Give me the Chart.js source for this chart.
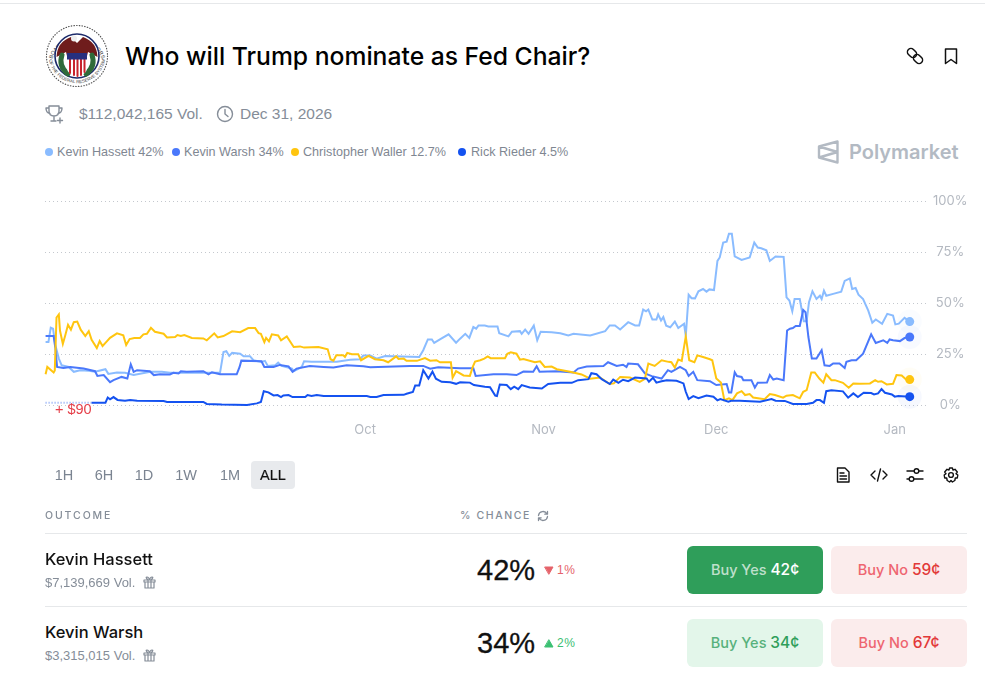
<!DOCTYPE html>
<html lang="en">
<head>
    <meta charset="UTF-8">
    <title>Who will Trump nominate as Fed Chair?</title>
    <script src="https://cdn.jsdelivr.net/npm/chart.js"></script>
    <style>
        html, body { margin: 0; padding: 0; background: #fff; overflow: hidden; }
        body { width: 985px; height: 673px; position: relative; font-family: Inter, sans-serif; color: #111; }
        .abs { position: absolute; white-space: nowrap; line-height: 1; }
        .grey { color: #858d98; }
        .lib { font-family: "Liberation Sans", sans-serif; }
        .rule { position: absolute; height: 1px; background: #e6e8ea; }
        .dot { position: absolute; width: 8px; height: 8px; border-radius: 50%; top: 148px; }
        .leg { top: 146px; font-size: 12.6px; color: #7f8792; font-family: "Liberation Sans", sans-serif; }
        .range { top: 468px; font-size: 14.5px; color: #7b8491; transform: translateX(-50%); font-family: "Liberation Sans", sans-serif; }
        .btn { position: absolute; width: 136px; height: 48px; border-radius: 6px; text-align: center; line-height: 48px; font-size: 14.5px; font-weight: 500; }
        .btn b { font-weight: 500; font-size: 15.5px; }
        .no { background: #fbecec; color: #ee6570; }
        .no b { color: #e23939; }
        .pct { font-size: 29px; font-family: "Liberation Sans", sans-serif; -webkit-text-stroke: .3px #111; }
        svg { position: absolute; fill: none; stroke-linecap: round; stroke-linejoin: round; }
        canvas { position: absolute; left: 0; top: 182px; }
    </style>
</head>
<body>
    <div class="rule" style="left:0;top:3px;width:985px"></div>

    <!-- seal -->
    <svg style="left:45px;top:24px" width="64" height="64" viewBox="0 0 64 64">
        <defs>
            <path id="sealTop" d="M6.5 38 A26 26 0 0 1 57.5 38"/>
            <path id="sealBottom" d="M4 36 A28.5 28.5 0 0 0 60 36"/>
        </defs>
        <circle cx="32" cy="32" r="30.5" stroke="#555" stroke-width="1.2" stroke-dasharray="0.5 2.2"/>
        <text font-family="Liberation Sans" font-size="5.4" fill="#333" stroke="none" text-anchor="middle"><textPath href="#sealTop" startOffset="50%">BOARD OF GOVERNORS</textPath></text>
        <text font-family="Liberation Sans" font-size="4.4" fill="#333" stroke="none" text-anchor="middle"><textPath href="#sealBottom" startOffset="50%">OF THE FEDERAL RESERVE SYSTEM</textPath></text>
        <circle cx="32" cy="32" r="22" fill="#fff" stroke="#1c2b6b" stroke-width="1.6"/>
        <path d="M11.5 33 Q12 18 26 13 L32 19 L38 13 Q52 18 52.5 33 L43 28 L42 32 L22 32 L21 28 Z" fill="#6f1c1c"/>
        <circle cx="29" cy="14.5" r="3" fill="#eee"/>
        <path d="M17 31 Q13 42 23 50 M47 31 Q51 42 41 50" stroke="#2f6b3a" stroke-width="5"/>
        <path d="M22 29 H42 V44 Q42 50 32 53 Q22 50 22 44 Z" fill="#fff"/>
        <path d="M25 35 V49 M29 35 V51 M32.5 35 V52 M36 35 V51 M39.5 35 V48" stroke="#c8232c" stroke-width="2"/>
        <rect x="22" y="29" width="20" height="6.5" fill="#27307f"/>
    </svg>

    <div class="abs" style="left:125px;top:44px;font-size:24.7px;font-weight:500;color:#000">Who will Trump nominate as Fed Chair?</div>

    <!-- link / bookmark -->
    <svg style="left:905px;top:46px" width="20" height="20" viewBox="0 0 20 20" stroke="#111" stroke-width="1.5">
        <rect x="2" y="3.5" width="10" height="7" rx="3.5" transform="rotate(45 7 7)"/>
        <rect x="8" y="9.5" width="10" height="7" rx="3.5" transform="rotate(45 13 13)"/>
    </svg>
    <svg style="left:943px;top:47px" width="16" height="18" viewBox="0 0 16 18" stroke="#111" stroke-width="1.5">
        <path d="M2.5 2 H13.5 V16.5 L8 12.5 L2.5 16.5 Z"/>
    </svg>

    <!-- trophy / clock -->
    <svg style="left:45px;top:104px" width="20" height="20" viewBox="0 0 20 20" stroke="#858d98" stroke-width="1.4">
        <path d="M4 2 H14 V7 Q14 12 9 12 Q4 12 4 7 Z M4 4 H1 Q1 9 5 9.5 M14 4 H17 Q17 9 13 9.5 M9 12 V16 M6 17 H11 M15 14 V19 M12.5 16.5 H17.5"/>
    </svg>
    <div class="abs grey lib" style="left:79px;top:106px;font-size:15.5px">$112,042,165 Vol.</div>
    <svg style="left:216px;top:105px" width="18" height="18" viewBox="0 0 18 18" stroke="#858d98" stroke-width="1.4">
        <circle cx="9" cy="9" r="7.5"/><path d="M9 4.5 V9 L12 11.5"/>
    </svg>
    <div class="abs grey lib" style="left:240px;top:106px;font-size:15.5px">Dec 31, 2026</div>

    <!-- legend -->
    <div class="dot" style="left:45px;background:#8abcff"></div>
    <div class="abs leg" style="left:57px">Kevin Hassett 42%</div>
    <div class="dot" style="left:172px;background:#4a78fb"></div>
    <div class="abs leg" style="left:184px">Kevin Warsh 34%</div>
    <div class="dot" style="left:291px;background:#ffc50f"></div>
    <div class="abs leg" style="left:303px">Christopher Waller 12.7%</div>
    <div class="dot" style="left:458px;background:#1452f0"></div>
    <div class="abs leg" style="left:471px">Rick Rieder 4.5%</div>

    <!-- polymarket mark -->
    <svg style="left:817px;top:139px" width="23" height="26" viewBox="0 0 23 26" stroke="#b3bac3" stroke-width="2.4">
        <path d="M20.5 2.5 V23.5 L2 18.5 V7.5 Z M2 7.5 L20.5 13 L2 18.5"/>
    </svg>
    <div class="abs" style="left:849px;top:142px;font-size:20px;font-weight:600;color:#b3bac3">Polymarket</div>

    <canvas id="oddsChart" width="985" height="258" style="width:985px;height:258px"></canvas>

    <div class="abs lib" style="left:55px;top:402px;font-size:14.5px;color:#e5404a">+ $90</div>

    <!-- range buttons -->
    <div class="abs range" style="left:64px">1H</div>
    <div class="abs range" style="left:104px">6H</div>
    <div class="abs range" style="left:144px">1D</div>
    <div class="abs range" style="left:186px">1W</div>
    <div class="abs range" style="left:230px">1M</div>
    <div style="position:absolute;left:251px;top:461px;width:44px;height:28px;border-radius:4px;background:#e8eaed"></div>
    <div class="abs range" style="left:273px;color:#111;-webkit-text-stroke:.2px #111">ALL</div>

    <!-- tool icons -->
    <svg style="left:835px;top:467px" width="16" height="16" viewBox="0 0 16 16" stroke="#111" stroke-width="1.4">
        <path d="M2.5 1 H10 L14 5 V15 H2.5 Z M5 6 H9 M5 9 H11.5 M5 12 H11.5"/>
    </svg>
    <svg style="left:870px;top:467px" width="18" height="16" viewBox="0 0 18 16" stroke="#111" stroke-width="1.4">
        <path d="M5 4 L1 8 L5 12 M13 4 L17 8 L13 12 M10.5 2 L7.5 14"/>
    </svg>
    <svg style="left:906px;top:467px" width="18" height="16" viewBox="0 0 18 16" stroke="#111" stroke-width="1.4">
        <path d="M1 4 H8 M13 4 H17 M1 12 H3 M8 12 H17"/><circle cx="10.5" cy="4" r="2.3"/><circle cx="5.5" cy="12" r="2.3"/>
    </svg>
    <svg style="left:943px;top:467px" width="16" height="16" viewBox="0 0 16 16" stroke="#111" stroke-width="1.4">
        <circle cx="8" cy="8" r="2.4"/>
        <path d="M6.6 1 H9.4 L10 3 L12 2.3 L14.3 5 L13 6.6 L14.8 8 L14.3 11 L12.3 11 L11.8 13.5 L9.4 15 L8 13.6 L6.6 15 L4.2 13.5 L3.7 11 L1.7 11 L1.2 8 L3 6.6 L1.7 5 L4 2.3 L6 3 Z"/>
    </svg>

    <!-- table head -->
    <div class="abs grey" style="left:45px;top:511px;font-size:10.5px;font-weight:500;letter-spacing:1.9px">OUTCOME</div>
    <div class="abs grey" style="left:460px;top:511px;font-size:10.5px;font-weight:500;letter-spacing:1.6px">% CHANCE</div>
    <svg style="left:537px;top:510px" width="12" height="12" viewBox="0 0 12 12" stroke="#858d98" stroke-width="1.3">
        <path d="M1.5 5.5 A4.5 4.5 0 0 1 10 4 M10.5 6.5 A4.5 4.5 0 0 1 2 8 M10.5 1.5 V4.2 H7.8 M1.5 10.5 V7.8 H4.2"/>
    </svg>
    <div class="rule" style="left:45px;top:533px;width:922px"></div>

    <!-- row 1 -->
    <div class="abs" style="left:45px;top:551px;font-size:16.5px;font-weight:500">Kevin Hassett</div>
    <div class="abs grey lib" style="left:45px;top:576px;font-size:13px">$7,139,669 Vol.</div>
    <svg style="left:143px;top:576px" width="13" height="13" viewBox="0 0 13 13" stroke="#858d98" stroke-width="1.2">
        <path d="M1 4 H12 V6 H1 Z M2 6 V12 H11 V6 M5 4 V12 M8 4 V12 M5 4 Q2 1 4 1 Q6 1 6.5 4 Q7 1 9 1 Q11 1 8 4"/>
    </svg>
    <div class="abs pct" style="left:477px;top:556px">42%</div>
    <svg style="left:544px;top:566px" width="10" height="9" viewBox="0 0 10 9"><path d="M1 1 H9 L5 8 Z" fill="#e5636a" stroke="#e5636a"/></svg>
    <div class="abs lib" style="left:557px;top:564px;font-size:12px;letter-spacing:.6px;color:#e5636a">1%</div>
    <div class="btn" style="left:687px;top:546px;background:#2f9e5a;color:rgba(255,255,255,.7)">Buy Yes <b style="color:#fff">42¢</b></div>
    <div class="btn no" style="left:831px;top:546px">Buy No <b>59¢</b></div>
    <div class="rule" style="left:45px;top:606px;width:922px"></div>

    <!-- row 2 -->
    <div class="abs" style="left:45px;top:624px;font-size:16.5px;font-weight:500">Kevin Warsh</div>
    <div class="abs grey lib" style="left:45px;top:649px;font-size:13px">$3,315,015 Vol.</div>
    <svg style="left:143px;top:649px" width="13" height="13" viewBox="0 0 13 13" stroke="#858d98" stroke-width="1.2">
        <path d="M1 4 H12 V6 H1 Z M2 6 V12 H11 V6 M5 4 V12 M8 4 V12 M5 4 Q2 1 4 1 Q6 1 6.5 4 Q7 1 9 1 Q11 1 8 4"/>
    </svg>
    <div class="abs pct" style="left:477px;top:629px">34%</div>
    <svg style="left:544px;top:639px" width="10" height="9" viewBox="0 0 10 9"><path d="M1 8 H9 L5 1 Z" fill="#3cc073" stroke="#3cc073"/></svg>
    <div class="abs lib" style="left:557px;top:637px;font-size:12px;letter-spacing:.6px;color:#3cc073">2%</div>
    <div class="btn" style="left:687px;top:619px;background:#e3f6ea;color:#57b17c">Buy Yes <b style="color:#2f9e5a">34¢</b></div>
    <div class="btn no" style="left:831px;top:619px">Buy No <b>67¢</b></div>

    <script>
        // x values are days counted from Oct 1
        const xTickDays = [0, 31, 61, 92];
        const xTickLabels = ['Oct', 'Nov', 'Dec', 'Jan'];
        const yTicks = [0, 25, 50, 75, 100];

        const hassettDays = [-55.5,-55,-54.6,-54.2,-53.8,-53.2,-52.7,-51.5,-50.6,-49.5,-48,-46.9,-45.1,-44.6,-43.1,-41.7,-40.2,-37.3,-35.3,-33.9,-25.2,-24.6,-24.1,-23.6,-23.1,-21.7,-21.1,-20,-19.4,-18,-17.4,-16.9,-15.6,-15.1,-14.5,-12.7,-12.4,-11,-10.6,-9.3,-4.9,-2.6,-0.9,-0.3,0.9,2,3.5,4.9,9.4,10.1,10.9,11.6,12,13,14.5,15.8,16.5,17.4,18.1,18.8,19.3,19.7,20.8,21.4,23,23.3,24.9,25.5,26.9,27.2,27.8,28.4,29.3,29.9,30.5,32.4,33.9,35.3,36.2,39.1,41.7,42.5,43.4,44.3,45.7,46.9,47.6,48.3,48.8,49.2,49.9,50.6,50.9,51.4,51.8,52.3,53,53.8,54.4,55.4,55.7,56.2,56.7,57.3,57.9,58.7,59.3,59.8,60.6,61.2,61.6,62.2,62.8,63.2,63.7,64.2,65.4,66.8,67.6,68.2,68.8,69.7,70.3,71.3,72.7,73.2,73.7,74.2,74.6,75.5,76.2,76.7,77.1,77.7,78.4,79,79.3,79.7,80.1,81.3,82.7,83.3,84.2,84.6,85.2,85.7,86.5,87.4,88.1,88.7,89.8,90.7,91.7,92.1,92.7,93.7,94.6];
        const hassettValues = [31,31,38,37.5,29.3,22.8,19.5,18.7,16.3,17.1,16.8,16.3,17.6,15.3,16,15.8,14.7,16.3,16.3,15.8,15.8,26,26.4,24.1,25.6,25.2,23.9,24,22,21.2,21.7,19.2,19.5,20.8,19.2,17.9,16.6,18.7,21.5,21.2,21.2,22.2,22.5,24.3,24.3,22.8,24.1,24,23.6,26.9,32.2,32.2,30.5,32.2,34.7,30.6,32.6,35,33,38.3,37.5,39.1,39.1,38.6,38.6,35.3,33.7,36,36.3,35,37.1,35,39,31.8,36,35.8,35.3,34.2,35,34.2,36.3,39.1,39.1,37.1,40.7,39.1,39.1,46.9,46,46.9,42,42,44.5,41.5,43.2,39,38.2,41,37.8,39.9,33.9,54.2,52.5,52.4,55.9,57,55.7,56.8,56.5,70.8,72.5,79.8,80.3,84.2,84.2,73,71.3,72.5,79.8,77.4,77,76,70.8,73,72.8,52.9,51.3,46.1,52.1,52.1,41.2,41.2,50.5,55.9,52.1,53.7,52.1,56.2,53.7,54.6,55.7,61,62.2,57,57.5,54.2,52.1,46.4,40.4,42,39.9,44.8,44,39.6,40,42.8,41];

        const warshDays = [-55.5,-54.1,-53.8,-53.5,-52.4,-51.2,-48.9,-46.9,-46.5,-45.4,-44.3,-43.7,-42.3,-41.3,-40.7,-40.2,-39.6,-37.4,-36.7,-35.6,-33.9,-33.3,-32.4,-32,-31,-28.1,-27.2,-26.6,-25.2,-22.3,-21.8,-21.5,-18,-17.5,-15.9,-14.8,-13.3,-12.6,-11.9,-9.6,-7.2,-5.5,-3.2,-0.3,0.9,7.8,10.1,11.3,12.7,16.5,18.8,19.2,22.3,24.6,26.3,27.5,29.2,29.8,30.3,33.3,36.2,37,38.5,41.4,42.2,43.7,44.8,45.4,45.7,47.4,48.6,49.8,51.5,52.6,53.2,54.7,55.7,56.2,57,57.7,59.9,61,62.8,63.2,63.6,64.2,64.6,65.4,65.7,67.1,67.7,68.2,69.8,70.3,70.9,71.5,72.7,73.3,73.8,74.3,74.8,75.5,76.1,76.5,77,77.6,78.4,79.3,79.8,80.7,81.3,82.4,83.3,83.6,84.5,85.3,86.5,87.9,88.7,90,90.7,91.1,91.7,92.9,93.7,94.6];
        const warshValues = [33.9,33.9,28,18.7,18.2,18.7,17.9,16.6,14.3,14.7,11.2,12.2,13.8,13,20,16.3,17.1,16.6,14.7,15.1,15,15.8,15.5,16.6,16.3,16.6,15.1,16.1,15.1,15.1,18.7,21.8,21.5,18.7,18.7,19.7,19,16.3,17.9,19.2,18.7,18.4,19.5,19,18.6,19.2,19.2,17.8,18.5,18.1,18.1,14.3,15.1,15.1,14.7,16.4,16.3,19,16.3,16.6,16,17.9,18.9,19.2,21,19.2,19.8,18.7,20.4,20,15.5,14.2,13,17.1,16.3,18.7,17.1,14.3,16.3,12.2,11.7,9.8,10.3,6.2,6.2,16.1,14.2,13.8,12.2,12.2,8.5,10.9,11,14.7,12.5,13,12.2,36.6,37.5,37.8,38.8,38.8,46.7,45.6,33.4,22.8,22.8,26.9,19.5,19.2,20.4,20.4,18.2,21.2,22,22,25.2,34.7,30.5,31.8,30.5,32.2,31.8,31.4,32.9,33.4];

        const wallerDays = [-55.5,-55.2,-54.1,-53.9,-53.6,-53.2,-53,-52.5,-52.1,-51.6,-51.1,-50.6,-50,-49.4,-48.6,-48,-47.5,-46.6,-46.1,-45.6,-45.1,-44.3,-43.1,-42,-41.5,-40.9,-40.1,-39.1,-38.5,-37.9,-37.2,-36.5,-35,-34.4,-33,-32.6,-32,-31.4,-30.1,-28.1,-27.5,-26.2,-25.6,-24.6,-23.1,-21.7,-20.3,-19.1,-18.5,-18.1,-17.5,-17.2,-16.7,-16.2,-15.1,-14.6,-13.6,-12.4,-11.3,-10.6,-8.1,-6.5,-6,-5.5,-5,-3.8,-3.5,-3.1,-2.3,-1.2,-0.7,0.6,1.7,3.2,4,5.4,5.8,6.7,7.2,9,10.4,11.3,12.4,13,14.9,15.2,15.8,17.1,18.2,18.7,19.1,20,20.7,21.3,21.8,24.3,24.7,25.3,26.3,26.9,27.5,29.5,30.4,31.2,32.4,33.3,35.6,37.6,39.1,40.8,42.5,43.2,44.3,46,47.7,48.6,49.2,50.3,51.5,52.7,53.2,53.8,54.4,55,55.7,56.3,57.2,57.7,58.7,59.9,60.3,61,61.8,62.4,63.2,63.8,64.6,65.4,66,66.8,67.4,69.4,70.3,71.2,72.6,73.2,74.3,75.5,76.1,76.7,77.5,78.1,78.9,79.6,80.1,81,81.6,83,84,84.8,85.9,87.7,88.6,89.1,89.7,90.6,91.7,92.3,93.2,94.1,94.6];
        const wallerValues = [15.1,18.7,16,17,43,44.5,36.6,30,34,39.4,37,40.7,41,37,33.9,36.3,32,28,31.4,29,30.5,33,35.2,34.2,29.5,32.4,32.9,32.9,34.7,35,37.9,36,35,33.2,33.4,34.4,33.9,34.4,32.9,32.7,31.8,35.2,33.2,33.9,36.2,35.8,37.8,37.8,35.3,35,30.9,33,31.3,34.7,34.2,31.8,33.7,28.5,28.8,28.2,28.5,27.4,22.5,21.8,24.4,24.4,23.6,25.6,25,25,22,24.1,22.5,22,21,23.9,22.6,22.8,21.7,21.7,23.1,21.8,22,21,21,13.4,16.6,14.5,14.3,18.7,21.3,22,22.8,23.9,23,23,25.2,25.9,25.2,22.3,22.6,21,21.5,18.7,18.9,17.6,16.3,15,12.9,13.5,10.3,10.6,13.8,13.5,11.4,12.9,20.4,19.2,22,21.2,21,18.4,22.3,21.7,33.7,22,21,24.4,23.6,22.5,22,13,11,2.4,3.3,2.4,5.7,6.8,4.9,5.4,3.7,2.8,5.4,4.9,3.6,4.6,4.9,3.3,6.5,7.3,16,16,13,11,15.1,12.2,12.2,10.9,8.5,10.6,10.4,10.6,12.2,11.4,11.7,10.1,10.4,14.7,14.5,12.2,12.5];

        const riederDays = [-55.5,-47.5,-45.1,-44.7,-44.3,-43.7,-43,-41.7,-40.8,-39.6,-35,-34.4,-28.1,-27.5,-24.9,-20.5,-18.8,-18.1,-17.6,-16.8,-15.9,-15.2,-14.6,-14.2,-13.3,-12.6,-10.4,-10,-9.3,-8.4,-7.2,0.3,0.9,2,3.2,6.7,7.2,8.3,8.7,9.4,10.1,11,11.7,12.3,13.3,14.8,15.8,16.5,18.2,18.9,20.8,21.7,22.6,22.9,23.4,24.6,25.3,25.9,26.6,27.2,28.6,30.7,31.8,33.9,35.9,37,38.8,39.3,40.2,41.1,42.5,43.1,44,44.8,45.7,46.9,48.9,49.3,50,50.6,51.5,52.4,54.1,55.3,55.7,56.2,57,57.9,59.3,60.5,61.2,61.7,63.1,63.6,65.1,68.6,70.6,71.3,72.9,74.3,76.7,77.8,78.4,79,79.7,80.1,81,83,83.9,84.8,85.6,86.6,87.9,88.4,89.1,89.7,90.3,91.5,92,92.6,94.6];
        const riederValues = [1.1,1.1,1.1,3.7,2.8,3.9,2.5,2.1,2.5,2.1,2,1.5,1.5,0.5,0.2,0,0.8,1.5,6.8,6.2,4.7,4.9,3.9,4.7,4.9,3.9,3.9,4.9,4.4,4.9,4.4,4.4,3.9,3.9,4.9,5,5.5,6.4,9.6,9.6,17.1,13,16.4,12.9,11.4,11.2,10.4,11.2,11,9.8,9,8.7,4.6,4.4,10.1,9.8,7.8,9,7.8,9.8,8.6,8.1,10.3,10.9,10.9,12.2,12.7,15.6,15.1,12.7,10.3,12.5,10.9,12.4,11.7,13.5,13,11.4,13.4,11,11.7,12.2,11.9,10.6,6.5,2.9,4.4,3.3,4.7,4.1,2.3,2.9,1.6,2.1,2.1,1.6,2.9,2.1,2,0.5,0.5,1.1,2.4,2.4,1.1,6.8,7.2,6.7,3.6,5.7,3.9,6,5.9,5.2,5.7,7.8,6,5.2,4.1,4.4,4.1];

        function toPoints(days, values) {
            return days.map((d, i) => ({ x: d, y: values[i] }));
        }

        // dot on the last point only, with a pale ring round it
        function lineSet(label, days, values, color, ring, order) {
            let last = days.length - 1;
            return {
                label: label,
                data: toPoints(days, values),
                borderColor: color,
                backgroundColor: color,
                borderWidth: 2,
                tension: 0,
                order: order,
                pointRadius: ctx => ctx.dataIndex === last ? 4.5 : 0,
                pointBorderWidth: ctx => ctx.dataIndex === last ? 15 : 0,
                pointBorderColor: ring,
                pointBackgroundColor: color
            };
        }

        let rieder = lineSet('Rick Rieder', riederDays, riederValues, '#1452f0', 'rgba(20,82,240,0.04)', 1);
        // the first stretch is drawn dotted
        rieder.segment = {
            borderDash: ctx => ctx.p0DataIndex === 0 ? [1, 2] : undefined,
            borderColor: ctx => ctx.p0DataIndex === 0 ? '#8aa8f5' : undefined
        };

        new Chart(document.getElementById('oddsChart'), {
            type: 'line',
            data: {
                datasets: [
                    rieder,
                    lineSet('Christopher Waller', wallerDays, wallerValues, '#ffc50f', 'rgba(255,197,15,0.04)', 2),
                    lineSet('Kevin Warsh', warshDays, warshValues, '#4a78fb', 'rgba(74,120,251,0.04)', 3),
                    lineSet('Kevin Hassett', hassettDays, hassettValues, '#8abcff', 'rgba(138,188,255,0.04)', 4)
                ]
            },
            options: {
                responsive: false,
                animation: false,
                devicePixelRatio: 1,
                layout: { padding: { left: 45, top: 0, right: 0, bottom: 0 } },
                plugins: { legend: { display: false }, tooltip: { enabled: false } },
                clip: false,
                scales: {
                    x: {
                        type: 'linear',
                        min: -55.6,
                        max: 97.6,
                        grid: { display: false },
                        border: { display: false },
                        afterBuildTicks: scale => { scale.ticks = xTickDays.map(d => ({ value: d })); },
                        afterFit: scale => { scale.height = 35; },
                        ticks: {
                            autoSkip: false,
                            maxRotation: 0,
                            padding: 9,
                            color: '#b4b9c1',
                            font: { family: 'Inter', size: 13 },
                            callback: v => xTickLabels[xTickDays.indexOf(v)]
                        }
                    },
                    y: {
                        position: 'right',
                        min: 0,
                        max: 100,
                        grid: { color: '#c4c8ce', lineWidth: 1, drawTicks: false },
                        border: { display: false, dash: [1, 3] },
                        afterBuildTicks: scale => { scale.ticks = yTicks.map(v => ({ value: v })); },
                        afterFit: scale => { scale.width = 58; },
                        ticks: {
                            padding: 6,
                            crossAlign: 'center',
                            color: '#b4b9c1',
                            font: { family: 'Inter', size: 13 },
                            callback: v => v + '%'
                        }
                    }
                }
            }
        });
    </script>
</body>
</html>
